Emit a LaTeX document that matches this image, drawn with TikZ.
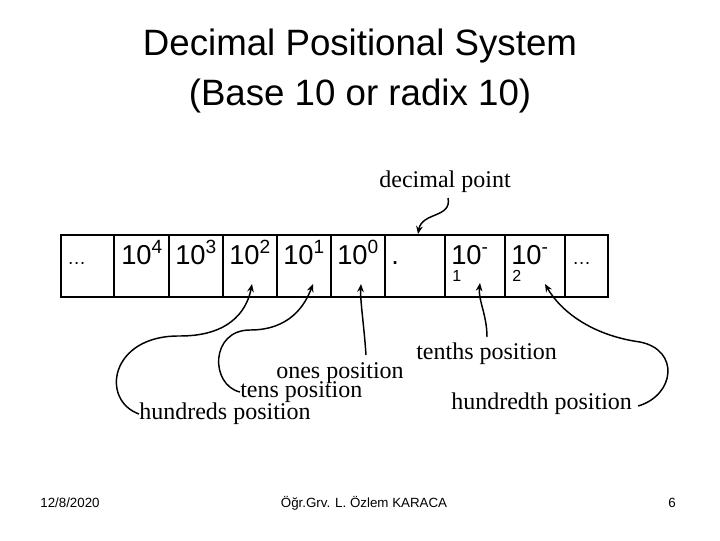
\documentclass[tikz,border=0pt]{standalone}
\usepackage{fontspec}
\setmainfont{Liberation Serif}
\newfontfamily\arialf{Liberation Sans}
\usetikzlibrary{arrows.meta}
\begin{document}
\begin{tikzpicture}[x=0.75pt,y=-0.75pt,
  cell/.style={draw,line width=1.6pt,minimum height=46.5pt,inner sep=0pt,anchor=north west},
  ct/.style={font=\arialf\fontsize{20.5}{20.5}\selectfont,anchor=base west,inner sep=0pt},
  lab/.style={font=\fontsize{18}{18}\selectfont,inner sep=0pt},
  foot/.style={font=\arialf\fontsize{10}{10}\selectfont,inner sep=0pt},
  arr/.style={-{Stealth[length=6pt,width=5pt]},line width=1.1pt}]
\useasboundingbox (0,0) rectangle (720,540);
\node[font=\arialf\fontsize{27.5}{37.5}\selectfont,align=center] (title) at (360,71) {Decimal Positional System\\(Base 10 or radix 10)};
% cells
\foreach \i/\a/\b in {0/60/113,1/113/168,2/168/222,3/222/276,4/276/330,5/330/384,6/384/444,7/444/504,8/504/564,9/564/607}{
  \node[cell,minimum width={(\b-\a)*0.75pt}] (c\i) at (\a,234) {};
}
\node[ct,font=\arialf\fontsize{14}{14}\selectfont] (t0) at (67,264) {\dots};
\node[ct] (t1) at (121,264) {10\textsuperscript{4}};
\node[ct] (t2) at (175,264) {10\textsuperscript{3}};
\node[ct] (t3) at (229,264) {10\textsuperscript{2}};
\node[ct] (t4) at (283,264) {10\textsuperscript{1}};
\node[ct] (t5) at (337,264) {10\textsuperscript{0}};
\node[ct] (t6) at (391,264) {.};
\node[ct] (t7) at (451,264) {10\textsuperscript{-}};
\node[ct,font=\arialf\fontsize{12}{12}\selectfont] (s7) at (452,281) {1};
\node[ct] (t8) at (511,264) {10\textsuperscript{-}};
\node[ct,font=\arialf\fontsize{12}{12}\selectfont] (s8) at (512,281) {2};
\node[ct,font=\arialf\fontsize{14}{14}\selectfont] (t9) at (572,264) {\dots};
% labels
\node[lab] (dp) at (445,182) {decimal point};
\node[lab,anchor=west] (hp) at (139,414) {hundreds position};
\node[lab,anchor=west] (tp) at (240,392) {tens position};
\node[lab] (op) at (340,373) {ones position};
\node[lab,anchor=west] (tnp) at (416,354) {tenths position};
\node[lab,anchor=west] (hdp) at (451,404) {hundredth position};
% tips
\coordinate (dpT) at (418,234);
\coordinate (hT) at (252,284);
\coordinate (tT) at (313,284);
\coordinate (oT) at (361,284);
\coordinate (tnT) at (480,283);
\coordinate (hdT) at (545,284);
\draw[arr] (448,198) .. controls (452,218) and (422,212) .. (dpT);
\draw[arr] (hp.west) .. controls (100,400) and (110,335) .. (180,336) .. controls (235,336) and (248,305) .. (hT);
\draw[arr] (tp.west) .. controls (210,385) and (210,330) .. (250,330) .. controls (290,330) and (305,305) .. (tT);
\draw[arr] (366,355) .. controls (364,325) and (360,300) .. (oT);
\draw[arr] (487,337) .. controls (487,315) and (478,300) .. (tnT);
\draw[arr] (hdp.east) ++(6,2) .. controls (675,395) and (680,350) .. (640,342) .. controls (590,335) and (560,310) .. (hdT);
% footer
\node[foot] (date) at (70,503) {12/8/2020};
\node[foot] (auth) at (364,503) {Öğr.Grv. L. Özlem KARACA};
\node[foot] (pg) at (672,503) {6};
\end{tikzpicture}
\end{document}
